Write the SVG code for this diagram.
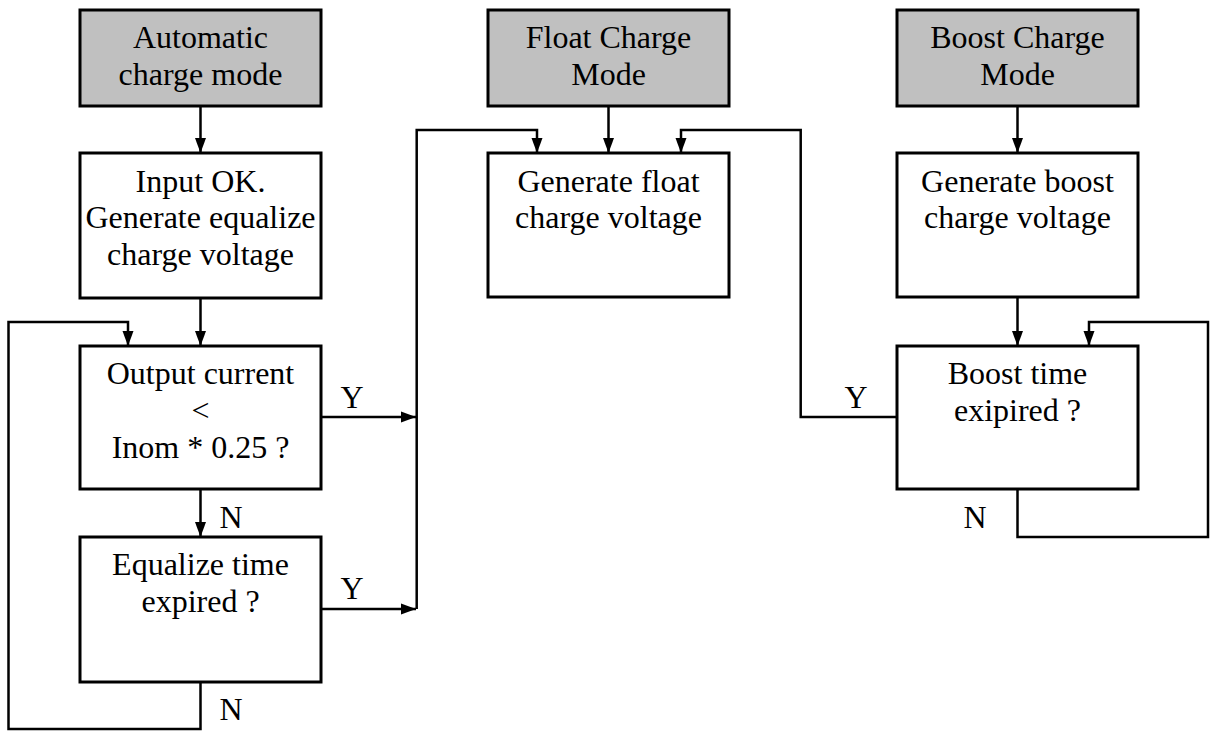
<svg xmlns="http://www.w3.org/2000/svg" width="1211" height="731" viewBox="0 0 1211 731">
<style>
.box{fill:#fff;stroke:#000;stroke-width:3}
.mode{fill:#c0c0c0;stroke:#000;stroke-width:3}
text{font-family:"Liberation Serif","Times New Roman",serif;font-size:32px;fill:#000}
.c{text-anchor:middle}
.ar{fill:none;stroke:#000;stroke-width:2.5;marker-end:url(#ah)}
</style>
<defs>
<marker id="ah" markerUnits="userSpaceOnUse" markerWidth="16" markerHeight="12" refX="15" refY="5.5" orient="auto" overflow="visible">
<path d="M0,0 L15,5.5 L0,11 z" fill="#000"/>
</marker>
</defs>
<rect width="1211" height="731" fill="#fff"/>
<g id="connectors">
<path class="ar" d="M200.5,106 V153"/>
<path class="ar" d="M200.5,298 V346"/>
<path class="ar" d="M200.5,489 V537"/>
<path class="ar" d="M200.5,682 V729 H8.5 V322 H128 V346"/>
<path class="ar" d="M321,417 H416"/>
<path class="ar" d="M321,609 H416"/>
<path class="ar" d="M416.7,609 V130 H537 V153"/>
<path class="ar" d="M608.5,106 V153"/>
<path class="ar" d="M897,417 H800.7 V130 H681 V153"/>
<path class="ar" d="M1017.5,106 V153"/>
<path class="ar" d="M1017.5,297 V346"/>
<path class="ar" d="M1017.5,489 V537 H1208 V322 H1089 V346"/>
<text x="352" y="408" class="c">Y</text>
<text x="352" y="599" class="c">Y</text>
<text x="231" y="528" class="c">N</text>
<text x="231" y="720" class="c">N</text>
<text x="856" y="408" class="c">Y</text>
<text x="975" y="528" class="c">N</text>
</g>
<g id="auto">
<rect class="mode" x="80" y="10" width="241" height="96"/>
<text x="200.5" y="48" class="c">Automatic</text>
<text x="200.5" y="85" class="c">charge mode</text>
</g>
<g id="input">
<rect class="box" x="80" y="153" width="241" height="145"/>
<text x="200.5" y="192" class="c">Input OK.</text>
<text x="200.5" y="228" class="c">Generate equalize</text>
<text x="200.5" y="265" class="c">charge voltage</text>
</g>
<g id="output">
<rect class="box" x="80" y="346" width="241" height="143"/>
<text x="200.5" y="384" class="c">Output current</text>
<text x="200.5" y="421" class="c">&lt;</text>
<text x="200.5" y="458" class="c">Inom * 0.25 ?</text>
</g>
<g id="equalize">
<rect class="box" x="80" y="537" width="241" height="145"/>
<text x="200.5" y="575" class="c">Equalize time</text>
<text x="200.5" y="612" class="c">expired ?</text>
</g>
<g id="floatmode">
<rect class="mode" x="488" y="10" width="241" height="96"/>
<text x="608.5" y="48" class="c">Float Charge</text>
<text x="608.5" y="85" class="c">Mode</text>
</g>
<g id="floatgen">
<rect class="box" x="488" y="153" width="241" height="144"/>
<text x="608.5" y="192" class="c">Generate float</text>
<text x="608.5" y="228" class="c">charge voltage</text>
</g>
<g id="boostmode">
<rect class="mode" x="897" y="10" width="241" height="96"/>
<text x="1017.5" y="48" class="c">Boost Charge</text>
<text x="1017.5" y="85" class="c">Mode</text>
</g>
<g id="boostgen">
<rect class="box" x="897" y="153" width="241" height="144"/>
<text x="1017.5" y="192" class="c">Generate boost</text>
<text x="1017.5" y="228" class="c">charge voltage</text>
</g>
<g id="boosttime">
<rect class="box" x="897" y="346" width="241" height="143"/>
<text x="1017.5" y="384" class="c">Boost time</text>
<text x="1017.5" y="421" class="c">exipired ?</text>
</g>
</svg>
